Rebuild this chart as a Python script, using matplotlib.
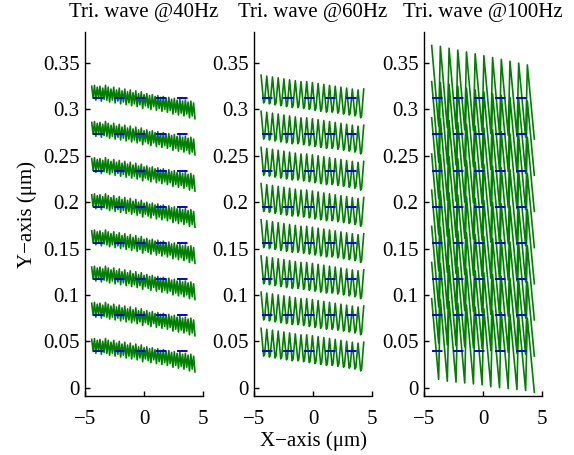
import numpy as np
import matplotlib
matplotlib.use("Agg")
import matplotlib.pyplot as plt

plt.rcParams['font.family'] = ['Liberation Serif', 'DejaVu Serif']
plt.rcParams['font.size'] = 15

TITLES = ["Tri. wave @40Hz", "Tri. wave @60Hz", "Tri. wave @100Hz"]
X_LABEL = "X\u2212axis (\u03bcm)"
Y_LABEL = "Y\u2212axis (\u03bcm)"
X_TICKS = [-5, 0, 5]
X_TICK_LABELS = ["\u22125", "0", "5"]
Y_TICKS = [0, 0.05, 0.1, 0.15, 0.2, 0.25, 0.3, 0.35]
Y_TICK_LABELS = ["0", "0.05", "0.1", "0.15", "0.2", "0.25", "0.3", "0.35"]

# reference (dashed) levels, one per scan line
LEVELS = [0.039, 0.078, 0.117, 0.156, 0.195, 0.234, 0.273, 0.312]
REF_X = [-4.35, 4.35]

# Panel 1 (40 Hz): successive local highs / lows relative to the level (x1e-3)
P1_X = [-4.43, 4.32]
P1_HIGH = [13, 14, 12, 13, 11, 14, 12, 10, 12, 9, 11, 8, 10, 7, 9, 6, 8, 5, 7,
           4, 5, 3, 4, 2, 3, 1, 2, 0, 1, -1, 0, -2, -1, -3, -2, -4, -3, -5]
P1_LOW = [0, -2, 1, -3, -1, -2, -4, -2, -5, -3, -6, -4, -7, -5, -8, -6, -9, -7,
          -11, -8, -10, -12, -9, -13, -11, -14, -12, -15, -13, -17, -15, -18,
          -16, -19, -17, -21, -19, -22]

# Panel 2 (60 Hz): peaks and troughs relative to the level (x1e-3)
P2_X = [-4.4, 4.3]
P2_PEAK = [25, 24, 23, 22, 21, 20, 19, 18, 18, 17, 16, 15, 14, 13, 12, 11, 10,
           9, 10]
P2_TROUGH = [-5, -6, -7, -8, -9, -10, -10, -11, -12, -13, -14, -15, -15, -16,
             -17, -18, -19, -21]

# Panel 3 (100 Hz): sawtooth peaks and troughs relative to the level (x1e-3)
P3_X = [-4.35, 4.35]
P3_PEAK = [57, 56, 54, 52, 50, 48, 46, 44, 42, 40, 38, 36]
P3_TROUGH = [-30, -32, -33, -34, -35, -36, -38, -39, -40, -41, -42, -44]

GREEN = (0, 0.5, 0)
BLUE = (0, 0, 1)


def profile_p1():
    n = len(P1_HIGH)
    x = np.linspace(P1_X[0], P1_X[1], 2 * n)
    y = np.empty(2 * n)
    y[0::2] = P1_HIGH
    y[1::2] = P1_LOW
    return x, y * 1e-3


def profile_p2():
    n = len(P2_TROUGH)
    T = (P2_X[1] - P2_X[0]) / n
    xs, ys = [], []
    for k in range(n):
        xs += [P2_X[0] + k * T, P2_X[0] + (k + 0.45) * T,
               P2_X[0] + (k + 0.62) * T]
        ys += [P2_PEAK[k], P2_TROUGH[k], P2_TROUGH[k] + 2]
    xs.append(P2_X[0] + n * T)
    ys.append(P2_PEAK[n])
    return np.array(xs), np.array(ys) * 1e-3


def profile_p3():
    n = len(P3_PEAK)
    T = (P3_X[1] - P3_X[0]) / (n - 0.2)
    xs, ys = [], []
    for k in range(n):
        xs += [P3_X[0] + k * T, P3_X[0] + (k + 0.8) * T]
        ys += [P3_PEAK[k], P3_TROUGH[k]]
    return np.array(xs), np.array(ys) * 1e-3


fig = plt.figure(figsize=(5.74, 4.55), dpi=100)
lefts = [85 / 574, 254 / 574, 424 / 574]
width = 118 / 574
bottom = 59 / 455
height = 364 / 455

profiles = [profile_p1(), profile_p2(), profile_p3()]

for i, (left, title, (px, py)) in enumerate(zip(lefts, TITLES, profiles)):
    ax = fig.add_axes([left, bottom, width, height])
    for lvl in LEVELS:
        ax.plot(px, py + lvl, color=GREEN, lw=1.2, zorder=2)
    for lvl in LEVELS:
        ax.plot(REF_X, [lvl, lvl], color=BLUE, lw=1.4, dashes=(5.4, 5.4),
                zorder=3)
    ax.set_xlim(-5, 5)
    ax.set_ylim(-0.009, 0.3835)
    ax.set_xticks(X_TICKS)
    ax.set_xticklabels(X_TICK_LABELS)
    ax.set_yticks(Y_TICKS)
    ax.set_yticklabels(Y_TICK_LABELS)
    ax.spines['top'].set_visible(False)
    ax.spines['right'].set_visible(False)
    for s in ['left', 'bottom']:
        ax.spines[s].set_linewidth(1.0)
    ax.tick_params(direction='in', length=3.5, width=1.0, labelsize=15)
    ax.tick_params(axis='x', pad=10)
    ax.tick_params(axis='y', pad=4)
    ax.set_title(title, fontsize=15, pad=11)
    if i == 0:
        ax.set_ylabel(Y_LABEL, fontsize=15, labelpad=4)
    if i == 1:
        ax.set_xlabel(X_LABEL, fontsize=15, labelpad=2)

fig.savefig("out.png", dpi=100)
